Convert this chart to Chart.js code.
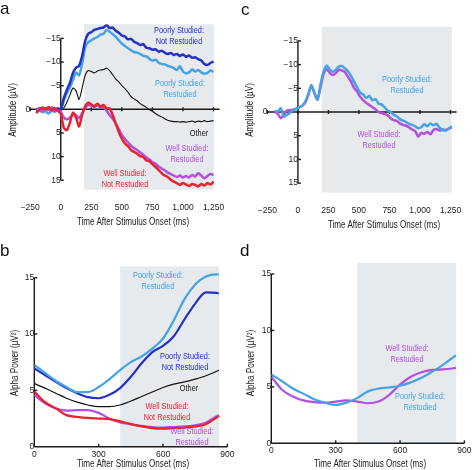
<!DOCTYPE html>
<html>
<head>
<meta charset="utf-8">
<script src="https://cdn.jsdelivr.net/npm/chart.js@4.4.1/dist/chart.umd.min.js"></script>
<style>
  html, body { margin: 0; padding: 0; background: #fff; }
  #fig { position: relative; width: 474px; height: 470px; overflow: hidden;
         font-family: 'Liberation Sans', Arial, sans-serif; color: #222; }
  canvas { position: absolute; }
  .t { position: absolute; transform: translate(-50%, -50%) scaleX(0.8); white-space: nowrap;
       font-size: 9.2px; line-height: 11px; text-align: center; }
  .title { font-size: 10px; color: #222; transform: translate(-50%, -50%) scaleX(0.81); }
  .ytitle { transform: translate(-50%, -50%) rotate(-90deg) scaleX(0.81); }
  .letter { position: absolute; font-size: 17px; line-height: 17px; color: #111; }
</style>
</head>
<body>
<div id="fig">
  <canvas id="chartA" width="237" height="232" style="left:0;top:0"></canvas>
  <canvas id="chartC" width="237" height="232" style="left:237px;top:0"></canvas>
  <canvas id="chartB" width="237" height="235" style="left:0;top:235px"></canvas>
  <canvas id="chartD" width="237" height="235" style="left:237px;top:235px"></canvas>

  <!-- letras dos painéis -->
  <div class="letter" style="left:0;top:0">a</div>
  <div class="letter" style="left:241px;top:1px">c</div>
  <div class="letter" style="left:0;top:242px">b</div>
  <div class="letter" style="left:240px;top:242px">d</div>

  <!-- painel a -->
  <div class="t title ytitle" style="left:12px;top:110px">Amplitude (µV)</div>
  <div class="t title" style="left:133px;top:221px">Time After Stimulus Onset (ms)</div>
  <div class="t" style="left:179px;top:36px;color:#2430c6">Poorly Studied:<br>Not Restudied</div>
  <div class="t" style="left:180px;top:89px;color:#45a3e5">Poorly Studied:<br>Restudied</div>
  <div class="t" style="left:199px;top:133px;color:#111">Other</div>
  <div class="t" style="left:187px;top:154px;color:#b24ee0">Well Studied:<br>Restudied</div>
  <div class="t" style="left:125px;top:179px;color:#e8232b">Well Studied:<br>Not Restudied</div>

  <!-- painel c -->
  <div class="t title ytitle" style="left:249px;top:110px">Amplitude (µV)</div>
  <div class="t title" style="left:384px;top:224px">Time After Stimulus Onset (ms)</div>
  <div class="t" style="left:407px;top:85px;color:#45a3e5">Poorly Studied:<br>Restudied</div>
  <div class="t" style="left:379px;top:140px;color:#b24ee0">Well Studied:<br>Restudied</div>

  <!-- painel b -->
  <div class="t title ytitle" style="left:14px;top:363px">Alpha Power (µV²)</div>
  <div class="t title" style="left:133px;top:463px">Time After Stimulus Onset (ms)</div>
  <div class="t" style="left:158px;top:281px;color:#45a3e5">Poorly Studied:<br>Restudied</div>
  <div class="t" style="left:185px;top:362px;color:#2430c6">Poorly Studied:<br>Not Restudied</div>
  <div class="t" style="left:189px;top:388px;color:#111">Other</div>
  <div class="t" style="left:167px;top:412px;color:#e8232b">Well Studied:<br>Not Restudied</div>
  <div class="t" style="left:192px;top:437px;color:#b24ee0">Well Studied:<br>Restudied</div>

  <!-- painel d -->
  <div class="t title ytitle" style="left:250px;top:363px">Alpha Power (µV²)</div>
  <div class="t title" style="left:370px;top:463px">Time After Stimulus Onset (ms)</div>
  <div class="t" style="left:407px;top:354px;color:#b24ee0">Well Studied:<br>Restudied</div>
  <div class="t" style="left:420px;top:402px;color:#45a3e5">Poorly Studied:<br>Restudied</div>
</div>

<script>
// --- 1. DADOS: painel a (ERP, amplitude em µV, negativo para cima) ---
const A_TIME = [-200, -175, -150, -125, -100, -75, -50, -25, 0, 25, 50, 75, 100, 125, 150, 175, 200, 225, 250, 275, 300, 325, 350, 375, 400, 425, 450, 475, 500, 525, 550, 575, 600, 625, 650, 675, 700, 725, 750, 775, 800, 825, 850, 875, 900, 925, 950, 975, 1000, 1025, 1050, 1075, 1100, 1125, 1150, 1175, 1200, 1225, 1250];
const A_POOR_NOT = [0.3, -0.2, 0.2, -0.3, 0.1, -0.4, 0.2, -0.2, 0.0, -2.4, -4.1, -5.6, -7.7, -8.8, -9.2, -11.3, -14.5, -16.0, -16.3, -16.8, -17.0, -17.2, -17.3, -17.8, -17.2, -17.3, -16.6, -16.2, -15.6, -15.4, -14.8, -14.9, -14.3, -14.0, -13.6, -13.8, -13.0, -12.9, -12.6, -12.7, -12.2, -12.4, -12.0, -11.7, -11.9, -11.5, -11.7, -11.3, -11.6, -11.1, -11.4, -10.9, -11.0, -10.6, -10.3, -9.6, -9.4, -9.8, -10.1];
const A_POOR_RE = [0.5, 0.2, 0.6, 0.4, 0.9, 0.3, 0.5, 0.2, 0.0, -1.8, -3.4, -4.6, -6.2, -7.8, -7.2, -9.6, -13.2, -14.2, -14.6, -15.0, -15.3, -15.8, -16.0, -16.8, -16.4, -15.9, -15.3, -14.6, -13.9, -13.4, -12.9, -12.5, -12.1, -12.0, -11.7, -11.3, -11.2, -10.7, -10.3, -10.5, -9.9, -9.6, -9.5, -9.2, -9.0, -8.7, -8.3, -9.1, -8.0, -7.6, -7.8, -8.4, -8.0, -8.3, -7.8, -7.5, -7.7, -8.2, -7.9];
const A_OTHER = [0.1, 0.0, 0.2, 0.1, 0.0, 0.1, -0.1, 0.1, 0.0, -0.3, -1.5, -3.0, -4.5, -3.9, -2.1, -4.5, -7.2, -8.2, -8.0, -7.7, -8.1, -8.3, -8.4, -8.7, -8.2, -7.3, -6.4, -5.8, -5.0, -4.4, -3.6, -2.7, -2.2, -1.8, -1.2, -0.8, -0.4, 0.1, 0.4, 0.9, 1.3, 1.6, 2.0, 2.3, 2.5, 2.6, 2.6, 2.7, 2.6, 2.7, 2.6, 2.5, 2.7, 2.5, 2.6, 2.4, 2.6, 2.5, 2.4];
const A_WELL_NOT = [0.8, 0.1, -0.4, 0.0, -0.5, 0.2, -0.3, 0.3, 1.0, 3.9, 4.4, 2.8, 0.7, 1.8, 3.6, 1.2, -0.7, -1.4, -1.0, -0.7, -1.2, -0.6, -0.9, -0.2, -0.2, 1.2, 3.0, 4.8, 6.2, 7.2, 7.8, 8.6, 9.0, 9.4, 9.9, 10.1, 10.8, 11.0, 11.6, 12.2, 12.8, 13.5, 14.0, 14.3, 14.9, 15.3, 15.6, 16.0, 15.6, 15.9, 16.2, 15.8, 16.0, 16.3, 15.8, 16.1, 15.6, 15.9, 15.3];
const A_WELL_RE = [0.2, -0.3, 0.3, -0.2, 0.1, -0.4, 0.1, 0.2, 0.6, 1.7, 2.1, 1.8, 1.0, 1.2, 1.9, 0.8, -0.3, -0.9, -0.8, -0.5, -0.9, -0.4, -0.6, 0.3, 1.2, 2.0, 3.0, 4.2, 5.4, 6.3, 7.0, 7.7, 8.2, 8.6, 9.1, 9.6, 10.2, 10.6, 11.2, 11.5, 12.1, 12.5, 12.9, 13.4, 13.7, 14.0, 14.3, 14.0, 14.4, 14.1, 14.4, 13.9, 14.2, 13.5, 14.0, 14.6, 14.1, 13.7, 13.9];

// --- painel c (ERP, só os restudados) ---
const C_TIME = [-190, -165, -140, -115, -90, -65, -40, -15, 10, 35, 60, 85, 110, 135, 160, 185, 210, 235, 260, 285, 310, 335, 360, 385, 410, 435, 460, 485, 510, 535, 560, 585, 610, 635, 660, 685, 710, 735, 760, 785, 810, 835, 860, 885, 910, 935, 960, 985, 1010, 1035, 1060, 1085, 1110, 1135, 1160, 1185, 1210, 1235, 1260];
const C_POOR_RE = [-0.3, -0.1, -0.8, 1.0, 0.6, 0.2, -0.4, -0.6, -1.0, -1.3, -2.2, -3.8, -5.7, -4.0, -2.6, -5.8, -8.5, -9.8, -9.0, -8.5, -8.9, -9.6, -9.7, -9.2, -8.6, -7.6, -6.4, -5.2, -4.1, -3.7, -3.0, -3.4, -2.5, -2.7, -1.8, -1.6, -1.0, -0.3, 0.0, 0.6, 0.9, 1.5, 1.8, 2.1, 2.5, 2.7, 3.0, 3.4, 3.2, 2.6, 3.0, 2.4, 2.8, 2.5, 3.3, 3.8, 3.9, 3.5, 3.0];
const C_WELL_RE = [0.0, 0.4, 1.3, 0.5, -0.3, -0.4, -0.5, -0.7, -1.0, -1.3, -2.0, -3.6, -5.5, -4.0, -2.7, -5.2, -8.0, -9.0, -8.3, -7.8, -8.2, -8.9, -8.8, -8.4, -7.4, -6.4, -5.1, -4.3, -3.2, -2.5, -1.9, -1.5, -1.0, -0.6, 0.0, 0.2, 0.4, 0.7, 1.3, 1.7, 1.9, 2.4, 2.7, 2.9, 3.2, 3.7, 4.0, 5.2, 4.4, 4.6, 4.2, 4.7, 3.8, 3.6, 3.9, 3.7, 3.8, 3.5, 3.3];

// --- painel b (potência alfa, µV²) ---
const B_TIME = [0, 50, 100, 150, 200, 250, 300, 350, 400, 450, 500, 550, 600, 650, 700, 750, 800, 850, 860];
const B_POOR_RE = [7.25, 6.55, 5.85, 5.3, 4.85, 4.85, 5.3, 6.0, 6.8, 7.5, 8.0, 8.7, 9.6, 11.2, 13.1, 14.4, 15.1, 15.3, 15.3];
const B_POOR_NOT = [6.95, 6.35, 5.75, 5.2, 4.75, 4.4, 4.3, 4.6, 5.2, 6.2, 7.4, 8.4, 8.95, 9.8, 11.3, 12.7, 13.7, 13.65, 13.6];
const B_OTHER = [5.6, 5.2, 4.75, 4.3, 3.95, 3.7, 3.55, 3.55, 3.7, 4.05, 4.45, 4.85, 5.25, 5.55, 5.75, 6.0, 6.3, 6.7, 6.8];
const B_WELL_NOT = [4.9, 3.95, 3.4, 2.8, 2.65, 2.55, 2.5, 2.45, 2.25, 2.0, 1.8, 1.65, 1.6, 1.65, 1.7, 1.8, 2.0, 2.6, 2.75];
const B_WELL_RE = [4.6, 3.85, 3.4, 3.2, 3.25, 3.25, 3.0, 2.5, 2.15, 2.0, 1.85, 1.75, 1.7, 1.75, 1.8, 1.9, 2.15, 2.7, 2.8];

// --- painel d ---
const D_TIME = [0, 50, 100, 150, 200, 250, 300, 350, 400, 450, 500, 550, 600, 650, 700, 750, 800, 850, 860];
const D_POOR_RE = [6.1, 5.5, 4.85, 4.4, 3.9, 3.6, 3.4, 3.6, 4.0, 4.6, 4.85, 4.95, 5.1, 5.4, 5.8, 6.35, 6.95, 7.65, 7.8];
const D_WELL_RE = [5.9, 4.75, 4.15, 3.8, 3.65, 3.6, 3.7, 3.8, 3.7, 3.55, 3.7, 4.3, 5.2, 5.9, 6.3, 6.5, 6.55, 6.65, 6.7];

// --- eixos e janelas de análise ---
const ERP_X_TICKS = [-250, 0, 250, 500, 750, 1000, 1250];
const ERP_Y_TICKS = [-15, -10, -5, 5, 10, 15];
const ERP_Y_ZERO = [0];
const ALPHA_X_TICKS = [0, 300, 600, 900];
const ALPHA_Y_TICKS = [0, 5, 10, 15];
const WINDOW_A = [190, 1255];
const WINDOW_C = [195, 1260];
const WINDOW_ALPHA = [400, 862];

// --- 2. ESTILO ---
const COR = { escuro: '#2430c6', claro: '#45a3e5', vermelho: '#e8232b', roxo: '#b24ee0', preto: '#111111' };
const SOMBRA = '#e7eaed';
const FONTE = "'Liberation Sans', Arial, sans-serif";
const fmt = v => (v < 0 ? '\u2212' : '') + Math.abs(v).toLocaleString('en-US');

// desenha a janela sombreada e as linhas de eixo (com marcas) usando as escalas
const framePlugin = {
  id: 'frame',
  beforeDraw(chart, args, o) {
    const { ctx, chartArea, scales: { x } } = chart;
    const x0 = x.getPixelForValue(o.window[0]);
    const x1 = x.getPixelForValue(o.window[1]);
    ctx.save();
    ctx.fillStyle = SOMBRA;
    ctx.fillRect(x0, chartArea.top, x1 - x0, chartArea.bottom - chartArea.top);
    ctx.restore();
  },
  beforeDatasetsDraw(chart, args, o) {
    const { ctx, scales: { x, y } } = chart;
    ctx.save();
    ctx.strokeStyle = '#1a1a1a';
    ctx.lineWidth = 1.4;
    // eixo horizontal
    const yz = y.getPixelForValue(o.hAt);
    ctx.beginPath();
    ctx.moveTo(x.getPixelForValue(o.hFrom), yz);
    ctx.lineTo(x.getPixelForValue(o.hTo), yz);
    ctx.stroke();
    o.hTicks.forEach(v => {
      const px = x.getPixelForValue(v);
      ctx.beginPath();
      ctx.moveTo(px, yz - o.tickUp);
      ctx.lineTo(px, yz + o.tickDown);
      ctx.stroke();
    });
    // eixo vertical
    const xz = x.getPixelForValue(o.vAt);
    ctx.beginPath();
    ctx.moveTo(xz, y.getPixelForValue(o.vFrom));
    ctx.lineTo(xz, y.getPixelForValue(o.vTo));
    ctx.stroke();
    o.vTicks.forEach(v => {
      const py = y.getPixelForValue(v);
      ctx.beginPath();
      ctx.moveTo(xz, py);
      ctx.lineTo(xz + 3, py);
      ctx.stroke();
    });
    ctx.restore();
  }
};

function serie(times, values, color, width, smooth) {
  return {
    data: times.map((t, i) => ({ x: t, y: values[i] })),
    borderColor: color,
    borderWidth: width,
    pointRadius: 0,
    fill: false,
    tension: smooth ? 0 : 0.25,
    cubicInterpolationMode: smooth ? 'monotone' : 'default'
  };
}

function labelAxis(axis, opts) {
  return Object.assign({
    type: 'linear',
    axis: axis,
    grid: { display: false, drawTicks: false },
    border: { display: false },
    ticks: { font: { family: FONTE, size: 8.5 }, color: '#222', autoSkip: false, maxRotation: 0, minRotation: 0, callback: fmt }
  }, opts);
}

function withTicks(list) {
  return s => { s.ticks = list.map(v => ({ value: v })); };
}

function erpChart(id, datasets, padding, windowRange) {
  const yRange = { min: -18, max: 17, reverse: true };
  const x = labelAxis('x', { min: -250, max: 1300, position: { y: 17 }, afterBuildTicks: withTicks(ERP_X_TICKS) });
  x.ticks.padding = 12.5;
  const y = labelAxis('y', Object.assign({ position: { x: 0 }, afterBuildTicks: withTicks(ERP_Y_TICKS) }, yRange));
  y.ticks.padding = 5;
  const y0 = labelAxis('y', Object.assign({ position: { x: -250 }, afterBuildTicks: withTicks(ERP_Y_ZERO) }, yRange));
  y0.ticks.padding = 3;
  return new Chart(document.getElementById(id), {
    type: 'line',
    data: { datasets },
    options: {
      responsive: false, animation: false, events: [],
      layout: { padding, autoPadding: false },
      scales: { x, y, y0 },
      plugins: {
        legend: { display: false }, tooltip: { enabled: false },
        frame: { window: windowRange, hAt: 0, hFrom: -250, hTo: 1300, hTicks: ERP_X_TICKS, tickUp: 2, tickDown: 2,
                 vAt: 0, vFrom: -15, vTo: 15, vTicks: ERP_Y_TICKS }
      }
    },
    plugins: [framePlugin]
  });
}

function alphaChart(id, datasets, padding) {
  const x = labelAxis('x', { min: 0, max: 900, position: { y: 0 }, afterBuildTicks: withTicks(ALPHA_X_TICKS) });
  x.ticks.padding = 2.5;
  const y = labelAxis('y', { min: 0, max: 16, position: { x: 0 }, afterBuildTicks: withTicks(ALPHA_Y_TICKS) });
  y.ticks.padding = 3;
  return new Chart(document.getElementById(id), {
    type: 'line',
    data: { datasets },
    options: {
      responsive: false, animation: false, events: [],
      layout: { padding, autoPadding: false },
      scales: { x, y },
      plugins: {
        legend: { display: false }, tooltip: { enabled: false },
        frame: { window: WINDOW_ALPHA, hAt: 0, hFrom: 0, hTo: 900, hTicks: [300, 600, 900], tickUp: 3, tickDown: 0,
                 vAt: 0, vFrom: 0, vTo: 15, vTicks: [5, 10, 15] }
      }
    },
    plugins: [framePlugin]
  });
}

// --- 3. MONTAGEM DOS QUATRO PAINÉIS ---
erpChart('chartA', [
  serie(A_TIME, A_WELL_NOT, COR.vermelho, 2.5),
  serie(A_TIME, A_WELL_RE, COR.roxo, 2.5),
  serie(A_TIME, A_POOR_NOT, COR.escuro, 2.5),
  serie(A_TIME, A_POOR_RE, COR.claro, 2.5),
  serie(A_TIME, A_OTHER, COR.preto, 1.1)
], { left: 30.2, right: 10.6, top: 24.2, bottom: 42.3 }, WINDOW_A);

erpChart('chartC', [
  serie(C_TIME, C_POOR_RE, COR.claro, 2.5),
  serie(C_TIME, C_WELL_RE, COR.roxo, 2.5)
], { left: 30.4, right: 10.5, top: 26.7, bottom: 39.4 }, WINDOW_C);

alphaChart('chartB', [
  serie(B_TIME, B_POOR_RE, COR.claro, 2.2, true),
  serie(B_TIME, B_POOR_NOT, COR.escuro, 2.2, true),
  serie(B_TIME, B_OTHER, COR.preto, 1.2, true),
  serie(B_TIME, B_WELL_NOT, COR.vermelho, 2.2, true),
  serie(B_TIME, B_WELL_RE, COR.roxo, 2.2, true)
], { left: 34.3, right: 5.9, top: 31.4, bottom: 23.3 });

alphaChart('chartD', [
  serie(D_TIME, D_POOR_RE, COR.claro, 2.2, true),
  serie(D_TIME, D_WELL_RE, COR.roxo, 2.2, true)
], { left: 34.3, right: 5.6, top: 27.7, bottom: 26.7 });
</script>
</body>
</html>
